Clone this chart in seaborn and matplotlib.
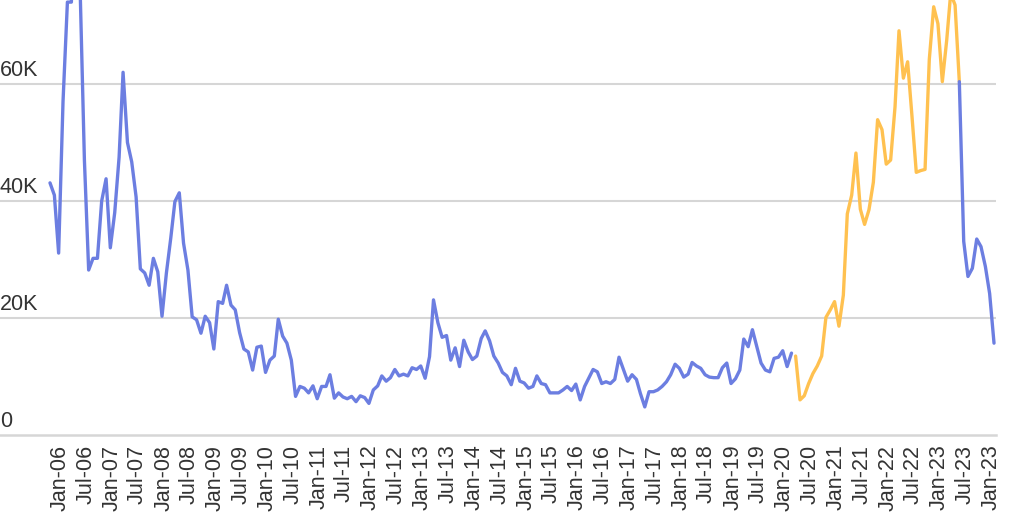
import numpy as np
import pandas as pd
import seaborn as sns
import matplotlib
import matplotlib.pyplot as plt
import matplotlib.transforms as mtransforms

matplotlib.use('Agg')

# Monthly series starting Oct-2005 (values in thousands)
start_month = '2005-10-01'

blue_head = [
    43.1, 41.0, 31.1, 57.0, 74.0, 74.0, 100.0, 77.0, 47.0, 28.2,
    30.2, 30.2, 40.0, 43.8, 32.0, 38.0, 47.5, 62.0, 50.0, 46.7,
    40.7, 28.4, 27.7, 25.6, 30.2, 27.9, 20.3, 27.7, 33.7, 39.9,
    41.4, 32.8, 28.2, 20.2, 19.7, 17.4, 20.3, 19.2, 14.7, 22.8,
    22.5, 25.6, 22.2, 21.4, 17.5, 14.7, 14.2, 11.1, 15.0, 15.2,
    10.7, 12.8, 13.5, 19.8, 16.9, 15.7, 12.8, 6.6, 8.3, 8.0,
    7.2, 8.4, 6.2, 8.3, 8.3, 10.3, 6.3, 7.2, 6.5, 6.2,
    6.6, 5.7, 6.7, 6.4, 5.4, 7.7, 8.4, 10.1, 9.2, 9.8,
    11.2, 10.1, 10.4, 10.1, 11.5, 11.2, 11.8, 9.7, 13.4, 23.1,
    19.2, 16.7, 17.0, 12.8, 14.9, 11.7, 16.2, 14.2, 12.9, 13.5,
    16.5, 17.8, 16.1, 13.5, 12.3, 10.7, 10.1, 8.6, 11.4, 9.2,
    8.9, 8.0, 8.3, 10.1, 8.8, 8.6, 7.2, 7.2, 7.2, 7.7,
    8.3, 7.6, 8.7, 6.0, 8.3, 9.7, 11.2, 10.8, 8.8, 9.1,
    8.8, 9.5, 13.3, 11.2, 9.2, 10.3, 9.5, 7.1, 4.8, 7.4,
    7.4, 7.7, 8.3, 9.1, 10.3, 12.1, 11.4, 9.9, 10.4, 12.4,
    11.8, 11.4, 10.3, 9.9, 9.8, 9.8, 11.5, 12.3, 8.8, 9.6,
    11.1, 16.4, 15.1, 18.0, 15.1, 12.3, 11.1, 10.8, 13.1, 13.3,
    14.4, 11.7, 14.0,
]

orange_mid = [
    13.5, 6.0, 6.7, 8.8, 10.5, 11.8, 13.5, 20.1, 21.4, 22.8,
    18.6, 23.9, 37.8, 41.0, 48.2, 38.6, 36.0, 38.5, 43.2, 53.9,
    52.2, 46.3, 47.0, 56.1, 69.1, 61.0, 63.8, 54.4, 44.9, 45.2,
    45.4, 64.2, 73.2, 70.3, 60.4, 67.5, 75.5, 73.5, 60.4,
]

blue_tail = [60.4, 33.1, 27.1, 28.5, 33.5, 32.2, 28.8, 24.2, 15.7]

y_ticks = [0, 20000, 40000, 60000]
y_tick_labels = ['0', '20K', '40K', '60K']

x_tick_labels = [
    'Jan-06', 'Jul-06', 'Jan-07', 'Jul-07', 'Jan-08', 'Jul-08', 'Jan-09', 'Jul-09',
    'Jan-10', 'Jul-10', 'Jan-11', 'Jul-11', 'Jan-12', 'Jul-12', 'Jan-13', 'Jul-13',
    'Jan-14', 'Jul-14', 'Jan-15', 'Jul-15', 'Jan-16', 'Jul-16', 'Jan-17', 'Jul-17',
    'Jan-18', 'Jul-18', 'Jan-19', 'Jul-19', 'Jan-20', 'Jul-20', 'Jan-21', 'Jul-21',
    'Jan-22', 'Jul-22', 'Jan-23', 'Jul-23', 'Jan-23',
]

BLUE = '#6c7ee1'
ORANGE = '#ffc150'
GRID = '#d6d6d6'
TEXT = '#333333'

# Build the date axis
n_head = len(blue_head)
n_mid = len(orange_mid)
all_dates = pd.date_range(start_month, periods=n_head + n_mid + len(blue_tail) - 1, freq='MS')
head_dates = all_dates[:n_head]
mid_dates = all_dates[n_head:n_head + n_mid]
tail_dates = all_dates[n_head + n_mid - 1:]

sns.set_style('white')
plt.rcParams['font.family'] = ['Liberation Sans', 'DejaVu Sans']

fig = plt.figure(figsize=(10.24, 5.12), dpi=100)
ax = fig.add_axes([0.0, 1 - 435 / 512, 996 / 1024, 435 / 512])

lw = 2.4
sns.lineplot(x=head_dates, y=np.array(blue_head) * 1000, color=BLUE, linewidth=lw, ax=ax)
sns.lineplot(x=mid_dates, y=np.array(orange_mid) * 1000, color=ORANGE, linewidth=lw, ax=ax)
sns.lineplot(x=tail_dates, y=np.array(blue_tail) * 1000, color=BLUE, linewidth=lw, ax=ax)

# Axis limits
ax.set_ylim(0, 74360)
ax.set_xlim(all_dates[0] - pd.Timedelta(days=353), all_dates[-1] + pd.Timedelta(days=14))

# Horizontal gridlines
for v in y_ticks[1:]:
    ax.axhline(v, color=GRID, linewidth=1.5, zorder=0)
for side in ['top', 'right', 'left']:
    ax.spines[side].set_visible(False)
ax.spines['bottom'].set_color(GRID)
ax.spines['bottom'].set_linewidth(1.8)

# Y labels sit above their gridlines at the left edge
ax.set_yticks([])
offset = mtransforms.ScaledTranslation(0, 6 / 72, fig.dpi_scale_trans)
for v, lab in zip(y_ticks, y_tick_labels):
    ax.text(0, v, lab, transform=ax.get_yaxis_transform() + offset,
            ha='left', va='baseline', fontsize=15.5, color=TEXT)

# X ticks
tick_dates = pd.date_range('2006-01-01', periods=len(x_tick_labels), freq='6MS')
ax.set_xticks(tick_dates)
ax.set_xticklabels(x_tick_labels, rotation=90, fontsize=15.5, color=TEXT)
ax.tick_params(axis='x', length=0, pad=7)
shift = mtransforms.ScaledTranslation(-2 / 72, 0, fig.dpi_scale_trans)
for lab in ax.get_xticklabels():
    lab.set_transform(lab.get_transform() + shift)

ax.set_xlabel('')
ax.set_ylabel('')

plt.savefig('out.png', dpi=100)
plt.close()
